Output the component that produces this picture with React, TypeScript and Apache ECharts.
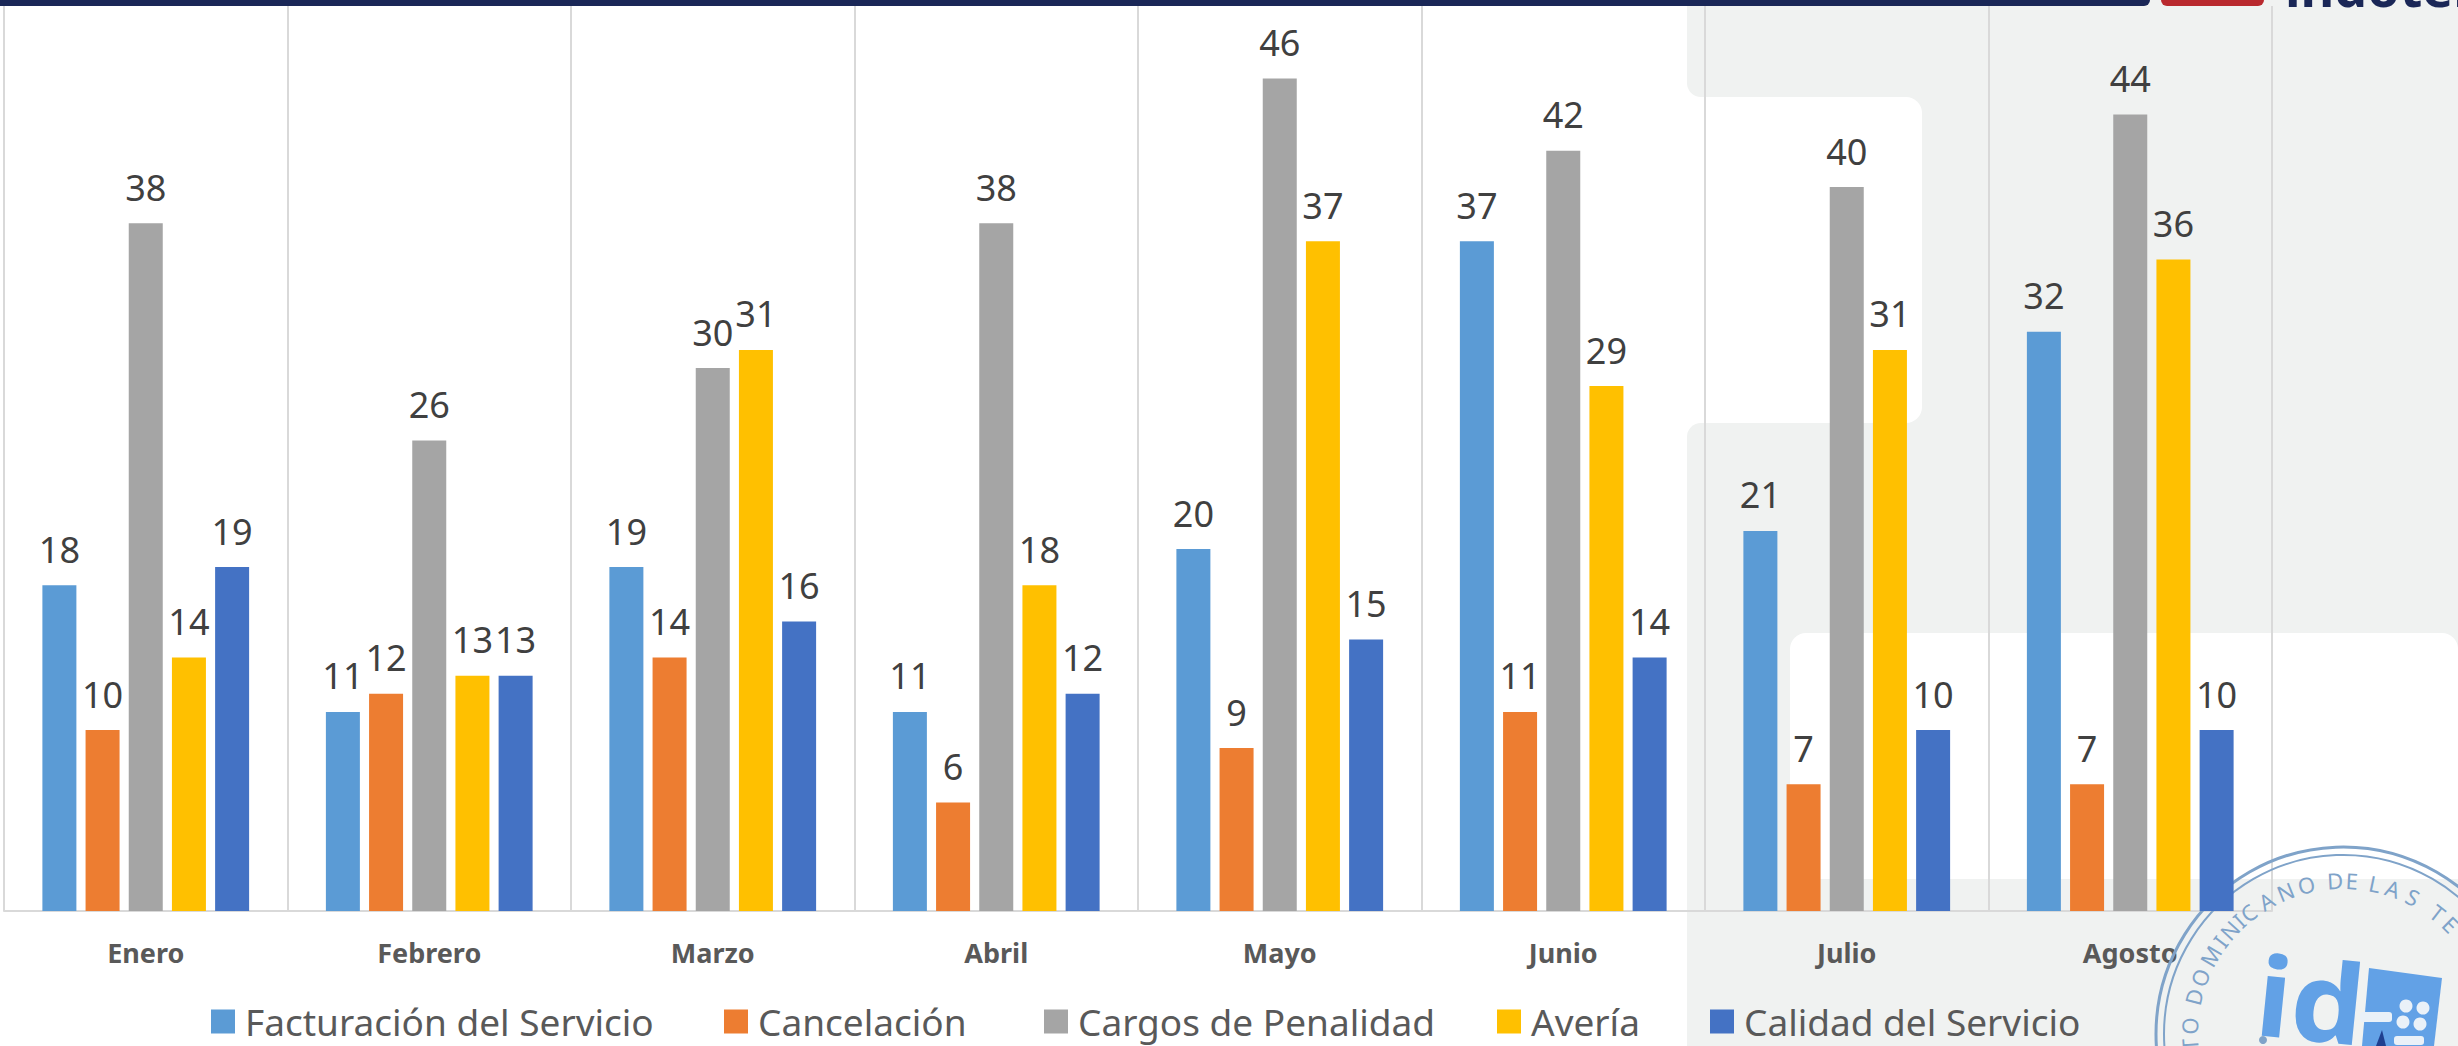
import React, { useEffect, useRef } from "react";
import * as echarts from "echarts";

const categories = ["Enero", "Febrero", "Marzo", "Abril", "Mayo", "Junio", "Julio", "Agosto"];
const facturacion = [18, 11, 19, 11, 20, 37, 21, 32];
const cancelacion = [10, 12, 14, 6, 9, 11, 7, 7];
const penalidad = [38, 26, 30, 38, 46, 42, 40, 44];
const averia = [14, 13, 31, 18, 37, 29, 31, 36];
const calidad = [19, 13, 16, 12, 15, 14, 10, 10];

const seriesDefs: [string, number[], string][] = [
  ["Facturación del Servicio", facturacion, "#5B9BD5"],
  ["Cancelación", cancelacion, "#ED7D31"],
  ["Cargos de Penalidad", penalidad, "#A5A5A5"],
  ["Avería", averia, "#FFC000"],
  ["Calidad del Servicio", calidad, "#4472C4"],
];
const legendLefts = [211, 724, 1044, 1497, 1710];

const FONT = "'Noto Sans', sans-serif";
const PANEL = "#F0F2F1";
const STAMP = "#7FA3C9";
const LOGO = "#62A1E6";

// letters of the seal, with their angle (degrees clockwise from the top of the ring)
const sealLetters: [string, number][] = [
  ["T", -94], ["O", -87], ["D", -76], ["O", -68.5], ["M", -59.5], ["I", -53], ["N", -47.5], ["I", -42.5],
  ["C", -38], ["A", -30], ["N", -22], ["O", -13.8], ["D", -3], ["E", 3.3], ["L", 12], ["A", 19], ["S", 27], ["T", 38], ["E", 44.5],
];

const CX = 2343, CY = 1034;

function sealElements() {
  const letters = sealLetters.map(([ch, deg]) => {
    const rad = (deg * Math.PI) / 180;
    return {
      type: "text",
      x: CX + 154 * Math.sin(rad),
      y: CY - 154 * Math.cos(rad),
      rotation: -rad,
      style: { text: ch, fill: STAMP, font: "22px 'Noto Sans'", textAlign: "center", textVerticalAlign: "middle" },
      z: 1,
    };
  });
  return [
    { type: "circle", shape: { cx: CX, cy: CY, r: 187 }, style: { fill: "none", stroke: STAMP, lineWidth: 3 }, z: 1 },
    { type: "circle", shape: { cx: CX, cy: CY, r: 179 }, style: { fill: "none", stroke: STAMP, lineWidth: 2 }, z: 1 },
    ...letters,
    { type: "text", x: 2252, y: 1047, rotation: -0.1, scaleX: 1.05, style: { text: "id", fill: LOGO, font: "bold 110px 'Noto Sans'", textAlign: "left", textVerticalAlign: "bottom" }, z: 1 },
    { type: "polygon", shape: { points: [[2369, 968], [2442, 978], [2434, 1046], [2362, 1046]] }, style: { fill: LOGO }, z: 1 },
    { type: "rect", shape: { x: 2360, y: 1012, width: 32, height: 10, r: 3 }, style: { fill: "#EAF1F8" }, z: 2 },
    { type: "rect", shape: { x: 2394, y: 1036, width: 30, height: 9, r: 3 }, style: { fill: "#EAF1F8" }, z: 2 },
    { type: "circle", shape: { cx: 2406, cy: 1006, r: 6.5 }, style: { fill: "#EAF1F8" }, z: 2 },
    { type: "circle", shape: { cx: 2423, cy: 1008, r: 6.5 }, style: { fill: "#EAF1F8" }, z: 2 },
    { type: "circle", shape: { cx: 2403, cy: 1022, r: 6.5 }, style: { fill: "#EAF1F8" }, z: 2 },
    { type: "circle", shape: { cx: 2420, cy: 1024, r: 6.5 }, style: { fill: "#EAF1F8" }, z: 2 },
    { type: "polygon", shape: { points: [[2376, 1046], [2382, 1030], [2386, 1046]] }, style: { fill: "#1F3F8F" }, z: 2 },
    { type: "circle", shape: { cx: 2263, cy: 1040, r: 4 }, style: { fill: STAMP }, z: 1 },
  ];
}

export default function App() {
  const ref = useRef<HTMLDivElement>(null);
  useEffect(() => {
    const chart = echarts.init(ref.current!, undefined, { renderer: "svg" });
    chart.setOption({
      animation: false,
      backgroundColor: "#FFFFFF",
      textStyle: { fontFamily: FONT },
      grid: { left: 4, right: 186, top: 6, bottom: 135, containLabel: false },
      xAxis: {
        type: "category",
        data: categories,
        axisTick: { show: false },
        axisLine: { lineStyle: { color: "#D9D9D9", width: 2 } },
        splitLine: { show: true, lineStyle: { color: "#D9D9D9", width: 2 } },
        axisLabel: { color: "#595959", fontSize: 27, fontWeight: "bold", margin: 28, fontFamily: FONT, interval: 0 },
      },
      yAxis: { type: "value", min: 0, max: 50, show: false, splitLine: { show: false } },
      legend: seriesDefs.map((s, i) => ({
        left: legendLefts[i],
        top: 1003,
        padding: 0,
        itemWidth: 24,
        itemHeight: 24,
        icon: "rect",
        textStyle: { color: "#595959", fontSize: 37, fontFamily: FONT, padding: [0, 0, 0, 5] },
        data: [s[0]],
      })),
      series: seriesDefs.map(([name, values, color]) => ({
        name,
        type: "bar",
        data: values,
        barWidth: 34,
        barGap: "27%",
        itemStyle: { color },
        label: { show: true, position: "top", distance: 18, color: "#404040", fontSize: 36, fontFamily: FONT },
      })),
      graphic: [
        { type: "rect", shape: { x: 1687, y: 0, width: 771, height: 97, r: [0, 0, 0, 14] }, style: { fill: PANEL }, z: -5 },
        { type: "rect", shape: { x: 1687, y: 423, width: 771, height: 623, r: [14, 0, 0, 0] }, style: { fill: PANEL }, z: -5 },
        { type: "rect", shape: { x: 1900, y: 0, width: 558, height: 1046 }, style: { fill: PANEL }, z: -5 },
        { type: "rect", shape: { x: 1700, y: 97, width: 222, height: 326, r: [0, 16, 16, 0] }, style: { fill: "#fff" }, z: -4 },
        { type: "rect", shape: { x: 1790, y: 633, width: 668, height: 246, r: [16, 16, 0, 0] }, style: { fill: "#fff" }, z: -4 },
        { type: "rect", shape: { x: 0, y: 0, width: 2150, height: 6, r: [0, 0, 6, 0] }, style: { fill: "#1A2757" }, z: 5 },
        { type: "rect", shape: { x: 2161, y: 0, width: 103, height: 6, r: [0, 0, 6, 6] }, style: { fill: "#B9292E" }, z: 5 },
        { type: "text", x: 2285, y: 12, style: { text: "indotel", fill: "#1A2757", font: "bold 52px 'Noto Sans'", textAlign: "left", textVerticalAlign: "bottom" }, z: 5 },
        ...sealElements(),
      ],
    });
    return () => chart.dispose();
  }, []);
  return <div ref={ref} style={{ position: "absolute", left: 0, top: 0, width: 2458, height: 1046 }} />;
}
